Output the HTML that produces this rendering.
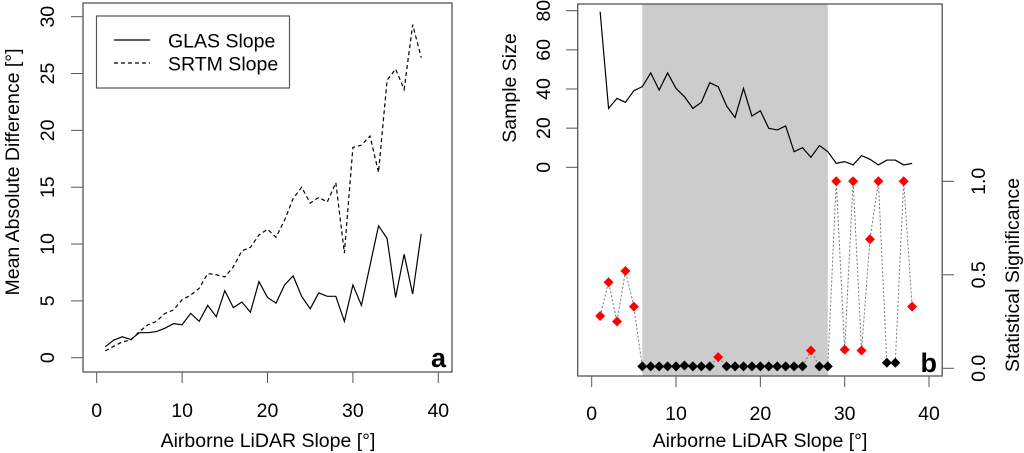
<!DOCTYPE html>
<html><head><meta charset="utf-8"><style>
body{margin:0;background:#fff;}
svg{display:block;font-family:"Liberation Sans",sans-serif;}
</style></head><body>
<svg id="chart" width="1024" height="453"></svg>
<script>
const xs = [1,2,3,4,5,6,7,8,9,10,11,12,13,14,15,16,17,18,19,20,21,22,23,24,25,26,27,28,29,30,31,32,33,34,35,36,37,38];
const glas = [0.96,1.55,1.84,1.6,2.2,2.2,2.3,2.6,3.0,2.9,3.9,3.2,4.6,3.6,5.9,4.4,4.9,4.0,6.7,5.3,4.8,6.4,7.2,5.4,4.3,5.7,5.4,5.4,3.2,6.4,4.6,8.1,11.6,10.5,5.3,9.1,5.6,10.9];
const srtm = [0.6,1.0,1.4,1.55,2.3,2.9,3.2,3.9,4.2,5.1,5.5,6.1,7.4,7.3,7.1,8.0,9.4,9.7,10.8,11.3,10.6,12.1,14.0,15.0,13.6,14.1,13.7,15.4,9.2,18.5,18.7,19.5,16.3,24.4,25.4,23.6,29.3,26.4];
const sampleSize = [79.5,30.1,35.2,33.2,39.1,41.2,48.2,39.5,48.2,40.3,36.1,30.1,33.2,43.2,41.2,31.3,25.4,40.3,26.2,28.9,19.9,19.1,21.1,8.0,10.0,5.1,11.1,8.0,2.0,2.9,1.2,6.0,4.1,1.2,3.7,3.7,1.2,2.0];
const signif = [0.28,0.46,0.25,0.52,0.33,0.01,0.01,0.01,0.01,0.01,0.015,0.01,0.01,0.01,0.06,0.01,0.01,0.01,0.01,0.01,0.01,0.01,0.01,0.01,0.01,0.095,0.01,0.01,1.0,0.10,1.0,0.095,0.69,1.0,0.03,0.03,1.0,0.33];
const xTicks = [0,10,20,30,40];
const yTicksA = [0,5,10,15,20,25,30];
const yTicksSize = [0,20,40,60,80];
const yTicksSig = [0.0,0.5,1.0];
const shadeRange = [6,28];

const svg = document.getElementById('chart');
const NS = 'http://www.w3.org/2000/svg';
const FS = 19.5;
function mk(tag, attrs, parent){const e=document.createElementNS(NS,tag);for(const k in attrs)e.setAttribute(k,attrs[k]);(parent||svg).appendChild(e);return e;}
function txt(s, x, y, rot, size, anchor, weight){const t=mk('text',{x:x,y:y,'font-size':size||FS,'text-anchor':anchor||'middle',fill:'#000'});if(weight)t.setAttribute('font-weight',weight);if(rot)t.setAttribute('transform','rotate('+rot+' '+x+' '+y+')');t.textContent=s;return t;}

const axA = v => 96.7 + (v)*(438.3-96.7)/40;
const ayA = v => 357.7 - v*(357.7-16.7)/30;
const axB = v => 591.7 + v*(929-591.7)/40;
const aySize = v => 167.3 - v*(167.3-10.7)/80;
const aySig = v => 368.3 - v*(368.3-181.3)/1;

let e;
e=mk('rect',{x:83,y:3,width:369,height:369,fill:'none',stroke:'#555','stroke-width':1.3});

xTicks.forEach(t=>{const x=axA(t);
  e=mk('line',{x1:x,y1:372,x2:x,y2:383,stroke:'#555'});
  e=txt(String(t),x,417);});
yTicksA.forEach(t=>{const y=ayA(t);
  e=mk('line',{x1:71,y1:y,x2:83,y2:y,stroke:'#555'});
  e=txt(String(t),54,y,-90);});
e=txt('Airborne LiDAR Slope [°]',268,447);
e=txt('Mean Absolute Difference [°]',19,172,-90);
e=mk('polyline',{points:xs.map((x,i)=>axA(x)+','+ayA(glas[i])).join(' '),fill:'none',stroke:'#000','stroke-width':1.2});

e=mk('polyline',{points:xs.map((x,i)=>axA(x)+','+ayA(srtm[i])).join(' '),fill:'none',stroke:'#000','stroke-width':1.2,'stroke-dasharray':'4,3'});

const lg=mk('g',{});
mk('rect',{x:96.5,y:16,width:193,height:72,fill:'#fff',stroke:'#555','stroke-width':1.2},lg);
mk('line',{x1:114,y1:40,x2:150,y2:40,stroke:'#000','stroke-width':1.2},lg);
mk('line',{x1:114,y1:63,x2:150,y2:63,stroke:'#000','stroke-width':1.2,'stroke-dasharray':'4,3'},lg);
e=txt('GLAS Slope',168,47.5,0,FS,'start');lg.appendChild(e);
e=txt('SRTM Slope',168,70.5,0,FS,'start');lg.appendChild(e);
e=txt('a',446,367,0,27,'end','bold');

e=mk('rect',{x:axB(shadeRange[0]),y:4.5,width:axB(shadeRange[1])-axB(shadeRange[0]),height:371,fill:'#cccccc'});

e=mk('rect',{x:577.7,y:4,width:364.5,height:372,fill:'none',stroke:'#555','stroke-width':1.3});

xTicks.forEach(t=>{const x=axB(t);
  e=mk('line',{x1:x,y1:376,x2:x,y2:387,stroke:'#555'});
  e=txt(String(t),x,420);});
yTicksSize.forEach(t=>{const y=aySize(t);
  e=mk('line',{x1:566,y1:y,x2:577.7,y2:y,stroke:'#555'});
  e=txt(String(t),550,y,-90);});
yTicksSig.forEach(t=>{const y=aySig(t);
  e=mk('line',{x1:942,y1:y,x2:954,y2:y,stroke:'#555'});
  e=txt(t.toFixed(1),985,y,-90);});
e=txt('Airborne LiDAR Slope [°]',760,447);
e=txt('Sample Size',516,88,-90);
e=txt('Statistical Significance',1019,275,-90);
e=mk('polyline',{points:xs.map((x,i)=>axB(x)+','+aySize(sampleSize[i])).join(' '),fill:'none',stroke:'#000','stroke-width':1.2});

e=mk('polyline',{points:xs.map((x,i)=>axB(x)+','+aySig(signif[i])).join(' '),fill:'none',stroke:'#777','stroke-width':1,'stroke-dasharray':'2,2'});

xs.forEach((x,i)=>{const cx=axB(x),cy=aySig(signif[i]);
  e=mk('polygon',{points:(cx)+','+(cy-5)+' '+(cx+5)+','+cy+' '+cx+','+(cy+5)+' '+(cx-5)+','+cy,fill:signif[i]>0.05?'#ff0000':'#000'});
  });
e=txt('b',937,372,0,27,'end','bold');
</script>
</body></html>
